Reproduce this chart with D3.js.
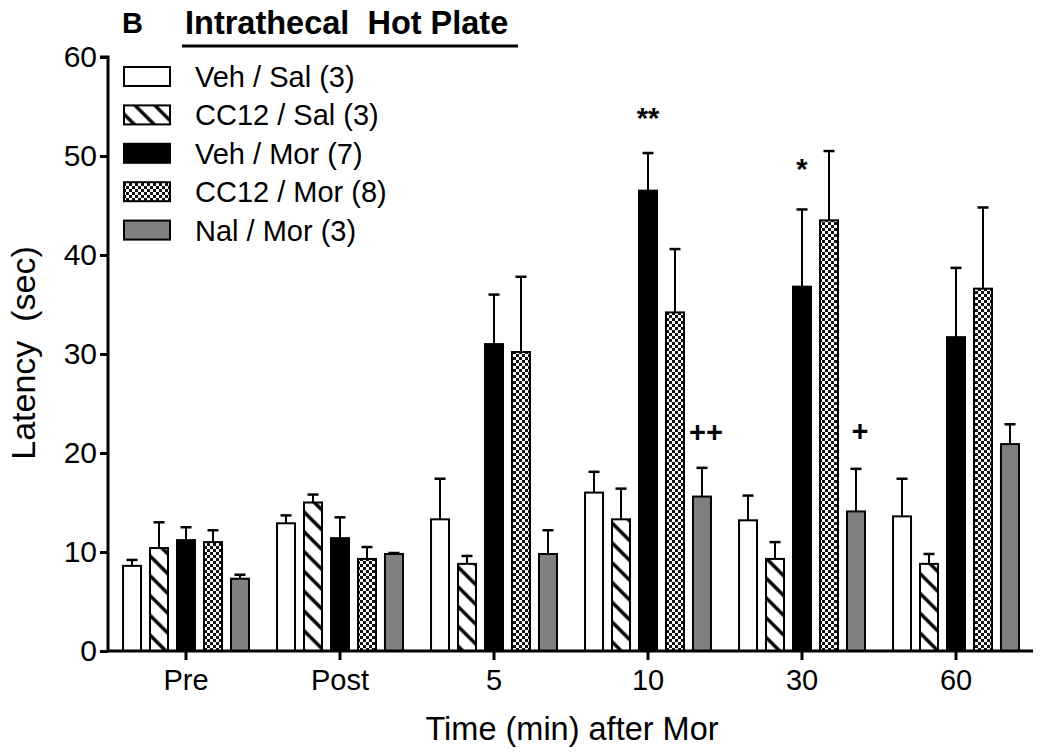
<!DOCTYPE html>
<html><head><meta charset="utf-8">
<script src="https://cdn.jsdelivr.net/npm/d3@7"></script>
<style>body{margin:0;background:#fff}svg{display:block}text{font-family:Arial,"Liberation Sans",sans-serif}</style>
</head><body><svg id="c" width="1050" height="756"></svg>
<script>
const categories = ["Pre","Post","5","10","30","60"];
const seriesNames = ["Veh / Sal (3)","CC12 / Sal (3)","Veh / Mor (7)","CC12 / Mor (8)","Nal / Mor (3)"];
const vehSal   = [8.6, 12.9, 13.3, 16.0, 13.2, 13.6];
const vehSalE  = [0.6, 0.8, 4.1, 2.1, 2.5, 3.8];
const cc12Sal  = [10.4, 15.0, 8.8, 13.3, 9.3, 8.8];
const cc12SalE = [2.6, 0.8, 0.8, 3.1, 1.7, 1.0];
const vehMor   = [11.2, 11.4, 31.0, 46.5, 36.8, 31.7];
const vehMorE  = [1.3, 2.1, 5.0, 3.8, 7.8, 7.0];
const cc12Mor  = [11.0, 9.3, 30.2, 34.2, 43.5, 36.6];
const cc12MorE = [1.2, 1.2, 7.6, 6.4, 7.0, 8.2];
const nalMor   = [7.3, 9.8, 9.8, 15.6, 14.1, 20.9];
const nalMorE  = [0.4, 0.1, 2.4, 2.9, 4.3, 2.0];
const yTicks = [0,10,20,30,40,50,60];
const annotations = [{cat:"10", s:2, text:"**", y:52.8}, {cat:"10", s:4, text:"++", y:21.1}, {cat:"30", s:2, text:"*", y:47.7}, {cat:"30", s:4, text:"+", y:21.2}];

const values = [vehSal, cc12Sal, vehMor, cc12Mor, nalMor];
const errors = [vehSalE, cc12SalE, vehMorE, cc12MorE, nalMorE];
const fills = ["#fff","url(#hatch)","#000","url(#checker)","#808080"];
const FONT = "Arial, 'Liberation Sans', sans-serif";

const svg = d3.select("#c");
const defs = svg.append("defs");
const hp = defs.append("pattern").attr("id","hatch").attr("patternUnits","userSpaceOnUse")
  .attr("width",14).attr("height",14).attr("patternTransform","rotate(45)");
hp.append("rect").attr("width",14).attr("height",14).attr("fill","#fff");
hp.append("line").attr("x1",0).attr("y1",7).attr("x2",14).attr("y2",7).attr("stroke","#000").attr("stroke-width",3.4);
const cp = defs.append("pattern").attr("id","checker").attr("patternUnits","userSpaceOnUse").attr("width",6).attr("height",6);
cp.append("rect").attr("width",6).attr("height",6).attr("fill","#fff");
cp.append("rect").attr("width",3).attr("height",3).attr("fill","#111");
cp.append("rect").attr("x",3).attr("y",3).attr("width",3).attr("height",3).attr("fill","#111");

const x0 = d3.scaleBand().domain(categories).range([109,1033]);
const x1 = d3.scaleBand().domain(d3.range(5)).range([0, x0.bandwidth()]).paddingInner(1/3).paddingOuter(0.52);
const y = d3.scaleLinear().domain([0,60]).range([651,57]);

// bars
values.forEach((vals, s) => {
  const g = svg.append("g");
  categories.forEach((c, i) => {
    const bx = x0(c) + x1(s), bw = x1.bandwidth();
    const top = y(vals[i] + errors[s][i]);
    const cx = bx + bw/2;
    g.append("line").attr("x1",cx).attr("x2",cx).attr("y1",y(vals[i])).attr("y2",top).attr("stroke","#000").attr("stroke-width",2);
    g.append("line").attr("x1",cx-5.5).attr("x2",cx+5.5).attr("y1",top).attr("y2",top).attr("stroke","#000").attr("stroke-width",2.5);
    g.append("rect").attr("x",bx).attr("y",y(vals[i])).attr("width",bw).attr("height",y(0)-y(vals[i]))
      .attr("fill",fills[s]).attr("stroke","#000").attr("stroke-width",2);
  });
});

// axes
const yAxis = svg.append("g").attr("transform","translate(108,0)")
  .call(d3.axisLeft(y).tickValues(yTicks).tickSize(8).tickPadding(3));
const xAxis = svg.append("g").attr("transform","translate(0,651)")
  .call(d3.axisBottom(x0).tickSize(9).tickPadding(9));
[yAxis, xAxis].forEach(a => {
  a.select(".domain").attr("stroke","#000").attr("stroke-width",3);
  a.selectAll(".tick line").attr("stroke","#000").attr("stroke-width",3);
  a.selectAll("text").attr("fill","#000").style("font-family",FONT);
});
yAxis.selectAll("text").attr("font-size",30);
xAxis.selectAll("text").attr("font-size",29);
yAxis.select(".domain").attr("d","M0,651V57H-8").attr("stroke-linejoin","miter");
xAxis.select(".domain").attr("d","M108,0H1033");

// annotations
annotations.forEach(a => {
  svg.append("text").attr("x", x0(a.cat) + x1(a.s) + x1.bandwidth()/2 + (a.text[0]==="+"?4:0)).attr("y", y(a.y))
    .attr("text-anchor","middle").attr("font-size",29).attr("font-weight","bold").text(a.text);
});

// legend
const leg = svg.append("g");
seriesNames.forEach((n, i) => {
  const base = 87 + i*38.4;
  leg.append("rect").attr("x",124).attr("y",base-20).attr("width",46).attr("height",19).attr("fill",fills[i]).attr("stroke","#000").attr("stroke-width",2);
  leg.append("text").attr("x",195).attr("y",base).attr("font-size",29).text(n);
});

// titles
svg.append("text").attr("x",122).attr("y",33).attr("font-size",29).attr("font-weight","bold").text("B");
svg.append("text").attr("x",185).attr("y",34).attr("font-size",32.5).attr("font-weight","bold")
  .text("Intrathecal\u00a0 Hot Plate");
svg.append("line").attr("x1",182).attr("x2",518).attr("y1",46).attr("y2",46).attr("stroke","#000").attr("stroke-width",3);

svg.append("text").attr("transform","translate(35,353) rotate(-90)").attr("text-anchor","middle").attr("font-size",34).text("Latency\u00a0 (sec)");
svg.append("text").attr("x",572).attr("y",740).attr("text-anchor","middle").attr("font-size",32.5).text("Time (min) after Mor");
</script></body></html>
